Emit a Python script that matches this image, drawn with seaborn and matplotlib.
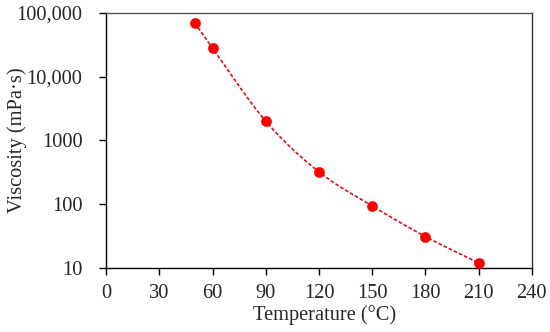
import numpy as np
import pandas as pd
import matplotlib
matplotlib.use('Agg')
import matplotlib.pyplot as plt
import matplotlib.ticker as mticker
import seaborn as sns

# Data
temperature = [50, 60, 90, 120, 150, 180, 210]
viscosity = [70000, 28000, 2000, 320, 94, 31, 12]

x_ticks = [0, 30, 60, 90, 120, 150, 180, 210, 240]
y_ticks = [10, 100, 1000, 10000, 100000]
y_labels = ['10', '100', '1000', '10,000', '100,000']

df = pd.DataFrame({'Temperature': temperature, 'Viscosity': viscosity})


def smooth_curve(x, y, n=30):
    # Catmull-Rom through the points in (x, log y) space, like a smoothed line
    x = np.asarray(x, float)
    ly = np.log10(np.asarray(y, float))
    px = np.concatenate([[2 * x[0] - x[1]], x, [2 * x[-1] - x[-2]]])
    py = np.concatenate([[2 * ly[0] - ly[1]], ly, [2 * ly[-1] - ly[-2]]])
    xs, ys = [], []
    for i in range(1, len(px) - 2):
        t = np.linspace(0, 1, n)
        for arr, out in ((px, xs), (py, ys)):
            p0, p1, p2, p3 = arr[i - 1], arr[i], arr[i + 1], arr[i + 2]
            out.append(0.5 * ((2 * p1) + (-p0 + p2) * t
                              + (2 * p0 - 5 * p1 + 4 * p2 - p3) * t ** 2
                              + (-p0 + 3 * p1 - 3 * p2 + p3) * t ** 3))
    return np.concatenate(xs), 10 ** np.concatenate(ys)


sns.set_style('white')
plt.rcParams['font.family'] = ['Liberation Serif', 'DejaVu Serif']

fig, ax = plt.subplots(figsize=(5.5, 3.32), dpi=100)
fig.subplots_adjust(left=0.193, right=0.967, top=0.961, bottom=0.193)

cx, cy = smooth_curve(temperature, viscosity)
ax.plot(cx, cy, color='#d81018', linestyle=(0, (2.2, 1.2)), linewidth=1.2, zorder=2)
sns.scatterplot(data=df, x='Temperature', y='Viscosity', ax=ax, color='#ff0000',
                s=60, edgecolor='#ff0000', linewidth=0, zorder=3)

ax.set_yscale('log')
ax.set_xlim(0, 240)
ax.set_ylim(10, 100000)
ax.set_xticks(x_ticks)
ax.set_yticks(y_ticks)
ax.set_yticklabels(y_labels)
ax.yaxis.set_minor_locator(mticker.NullLocator())

ax.tick_params(axis='both', which='major', direction='out', length=5, width=1,
               color='black', labelsize=14.7, left=True, bottom=True)
ax.tick_params(axis='y', pad=12)
ax.tick_params(axis='x', pad=6.5)
ax.set_xlabel('Temperature (°C)', fontsize=14.7)
ax.set_ylabel('Viscosity (mPa·s)', fontsize=14.7)
ax.xaxis.set_label_coords(0.514, -0.147)
ax.yaxis.set_label_coords(-0.186, 0.5)

for side in ['left', 'bottom', 'right', 'top']:
    ax.spines[side].set_visible(True)
    ax.spines[side].set_linewidth(1.0)
ax.spines['left'].set_color('black')
ax.spines['bottom'].set_color('black')
ax.spines['top'].set_color('#505050')
ax.spines['right'].set_color('#303030')

plt.savefig('out.png', dpi=100)
